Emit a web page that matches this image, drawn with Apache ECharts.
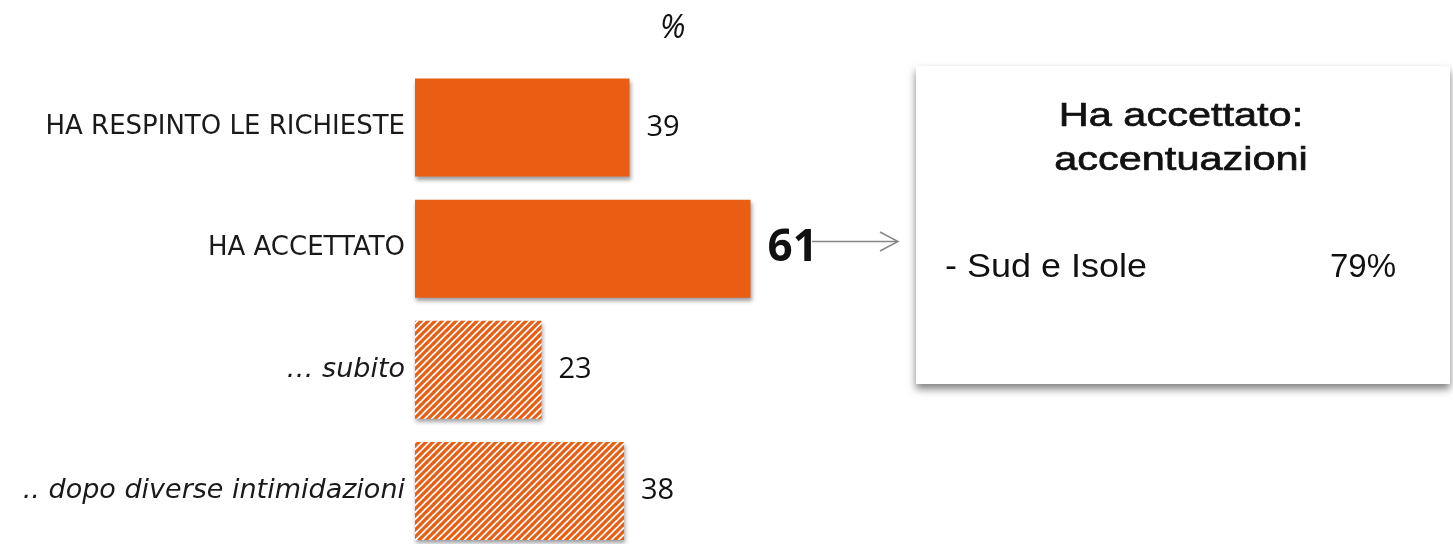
<!DOCTYPE html>
<html>
<head>
<meta charset="utf-8">
<script src="https://cdn.jsdelivr.net/npm/echarts@6/dist/echarts.min.js"></script>
<style>
html,body{margin:0;padding:0;background:#fff;}
#chart{width:1453px;height:544px;}
</style>
</head>
<body>
<div id="chart"></div>
<script>
const categories = ['HA RESPINTO LE RICHIESTE', 'HA ACCETTATO', '… subito', '.. dopo diverse intimidazioni'];
const values = [39, 61, 23, 38];
const hatched = [false, false, true, true];
const italicLabels = [false, false, true, true];
const boxTitle = ['Ha accettato:', 'accentuazioni'];
const boxRowLabel = '- Sud e Isole';
const boxRowValue = '79%';

const ORANGE = '#E95E12';
function makeHatch() {
  const s = 7;
  const c = document.createElement('canvas');
  c.width = s; c.height = s;
  const g = c.getContext('2d');
  g.fillStyle = '#ffffff';
  g.fillRect(0, 0, s, s);
  g.strokeStyle = ORANGE;
  g.lineWidth = 3.2;
  g.beginPath();
  g.moveTo(-1, s + 1); g.lineTo(s + 1, -1);
  g.moveTo(-1, 1); g.lineTo(1, -1);
  g.moveTo(s - 1, s + 1); g.lineTo(s + 1, s - 1);
  g.stroke();
  return c;
}
const hatch = makeHatch();

const LABEL_FONT = '"DejaVu Sans", sans-serif';
const NUM_FONT = '"Open Sans", sans-serif';
const BOX_FONT = '"Liberation Sans", Arial, sans-serif';
const chart = echarts.init(document.getElementById('chart'));
const option = {
  animation: false,
  title: {
    text: '%',
    left: 655, top: 8,
    textStyle: { fontSize: 32, fontStyle: 'italic', fontWeight: 'normal', color: '#111', fontFamily: NUM_FONT }
  },
  grid: { left: 415, top: 127.5, width: 550, height: 363.5, containLabel: false },
  xAxis: { type: 'value', min: 0, max: 100, show: false },
  yAxis: {
    type: 'category', inverse: true, data: categories, boundaryGap: false,
    axisLine: { show: false }, axisTick: { show: false }, splitLine: { show: false },
    axisLabel: {
      margin: 10,
      formatter: function (v, i) { return italicLabels[i] ? '{it|' + v + '}' : '{n|' + v + '}'; },
      rich: {
        n: { fontSize: 26, color: '#1a1a1a', fontFamily: LABEL_FONT },
        it: { fontSize: 27, color: '#1a1a1a', fontStyle: 'italic', fontFamily: LABEL_FONT }
      }
    }
  },
  series: [{
    type: 'bar',
    barWidth: 98,
    clip: false,
    data: values.map((v, i) => ({
      value: v,
      itemStyle: {
        color: hatched[i] ? { image: hatch, repeat: 'repeat' } : ORANGE,
        shadowColor: 'rgba(0,0,0,0.38)', shadowBlur: 4, shadowOffsetX: 1, shadowOffsetY: 3
      },
      label: i === 1 ? { fontSize: 44, fontWeight: 'bold', distance: 17 } : {}
    })),
    label: {
      show: true, position: 'right', distance: 17,
      fontSize: 29, color: '#111', fontFamily: NUM_FONT
    }
  }],
  graphic: [
    {
      type: 'rect', shape: { x: 916, y: 66, width: 534, height: 318 },
      style: { fill: '#fff', shadowBlur: 8, shadowOffsetY: 5, shadowColor: 'rgba(0,0,0,0.5)' }
    },
    {
      type: 'text', x: 1181, y: 117, scaleX: 1.22,
      style: { text: boxTitle[0], fontSize: 34, fontFamily: BOX_FONT, fill: '#111', stroke: '#111', lineWidth: 0.7, align: 'center', verticalAlign: 'middle' }
    },
    {
      type: 'text', x: 1181, y: 161, scaleX: 1.22,
      style: { text: boxTitle[1], fontSize: 34, fontFamily: BOX_FONT, fill: '#111', stroke: '#111', lineWidth: 0.7, align: 'center', verticalAlign: 'middle' }
    },
    {
      type: 'text', x: 945, y: 268, scaleX: 1.09,
      style: { text: boxRowLabel, fontSize: 33, fontFamily: BOX_FONT, fill: '#111', align: 'left', verticalAlign: 'middle' }
    },
    {
      type: 'text', x: 1396, y: 268,
      style: { text: boxRowValue, fontSize: 33, fontFamily: BOX_FONT, fill: '#111', align: 'right', verticalAlign: 'middle' }
    },
    {
      type: 'polyline', shape: { points: [[812, 241.5], [897, 241.5]] },
      style: { stroke: '#878787', lineWidth: 1.5 }
    },
    {
      type: 'polyline', shape: { points: [[880, 232], [898, 241.5], [880, 251]] },
      style: { stroke: '#878787', lineWidth: 1.5, fill: null }
    }
  ]
};
chart.setOption(option);
</script>
</body>
</html>
